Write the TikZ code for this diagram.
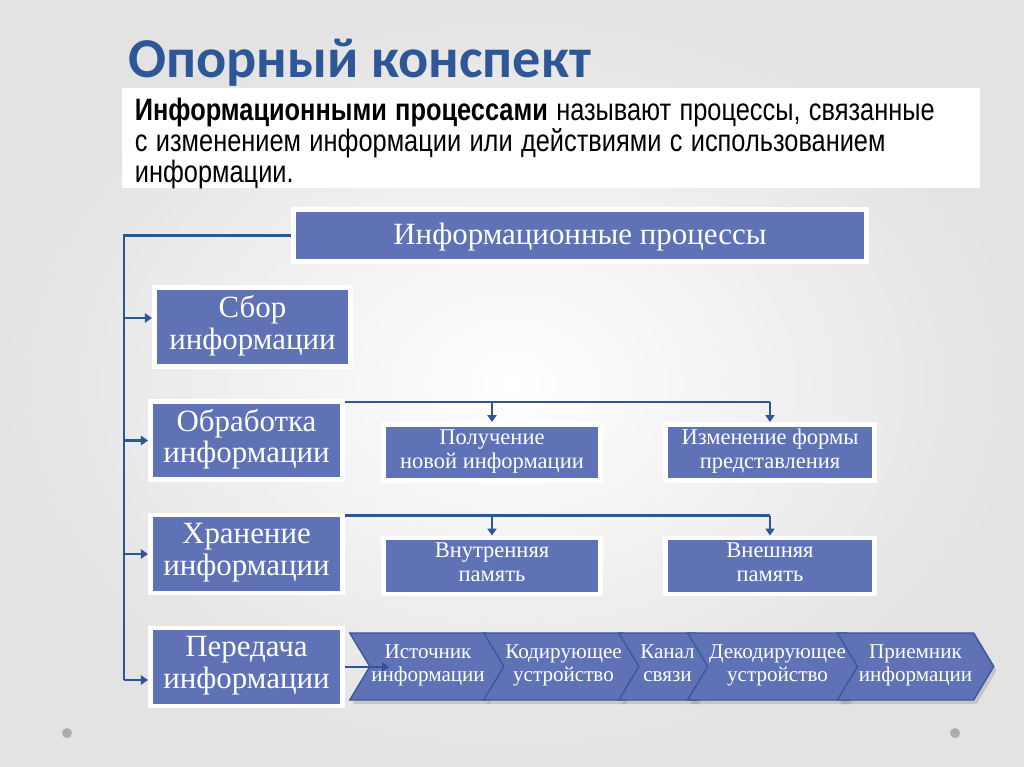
\documentclass[tikz,border=0pt]{standalone}
\usepackage{fontspec}
\setmainfont{Liberation Serif}
\newfontfamily\titlefont{Carlito}
\newfontfamily\narrowfont[FakeStretch=0.82]{Liberation Sans}
\newcommand\defnfont{\narrowfont\fontsize{22}{22}\selectfont\spaceskip 0.27em plus 0.05em\relax}
\usepackage{xcolor}
\definecolor{procBlue}{HTML}{5E72B5}
\definecolor{procEdge}{HTML}{3B579E}
\definecolor{lineBlue}{HTML}{2E5696}
\definecolor{titleBlue}{HTML}{2D5797}
\usetikzlibrary{positioning,shapes.symbols,shadows,arrows.meta}

\begin{document}
\begin{tikzpicture}[x=0.025cm, y=-0.025cm,
  conn/.style={draw=lineBlue, line width=2pt},
  arr/.style={conn, -{Triangle[length=5pt,width=6.5pt]}},
  procbox/.style={rectangle, fill=procBlue, draw=white, line width=3.5pt, text=white,
    align=center, inner sep=0pt, execute at end node=\strut,
    drop shadow={opacity=0.25, shadow xshift=1.5pt, shadow yshift=-1.5pt}},
  mainbox/.style={procbox, minimum width=4.8cm, minimum height=1.95cm,
    font=\fontsize{22}{22.5}\selectfont, execute at begin node=\rule{0pt}{27pt}},
  subbox/.style={procbox, minimum height=1.4cm, font=\fontsize{16}{17}\selectfont,
    execute at begin node=\rule{0pt}{19pt}},
  chev/.style={signal, signal from=west, signal to=east, signal pointer angle=118,
    fill=procBlue, draw=procEdge, line width=1pt, text=white, align=center,
    minimum height=1.675cm, inner sep=1pt, font=\fontsize{15}{16}\selectfont,
    execute at end node=\strut,
    drop shadow={opacity=0.3, shadow xshift=2pt, shadow yshift=-3pt}}]
  \useasboundingbox (0,0) rectangle (1024,767);
  \shade[inner color=white, outer color=gray!22] (0,0) rectangle (1024,767);
  \fill[gray!65] (67,733) circle (5);
  \fill[gray!65] (955,733) circle (5);

  \node[anchor=base west, inner sep=0pt, text=titleBlue,
    font=\titlefont\bfseries\fontsize{40}{44}\selectfont] (title) at (128,78) {Опорный конспект};
  \node[fill=white, minimum width=21.45cm, minimum height=2.5cm] (defn) at (551,138) {};
  \node[anchor=north west, inner sep=0pt, align=left, font=\defnfont]
    (defntext) at ([xshift=0.325cm,yshift=-0.25cm]defn.north west)
    {\textbf{Информационными процессами} называют процессы, связанные\\
     с изменением информации или действиями с использованием\\
     информации.};

  \node[procbox, minimum width=14.325cm, minimum height=1.3cm,
    font=\fontsize{22}{24}\selectfont, execute at begin node=\rule{0pt}{20pt}]
    (top) at (580,235.5) {Информационные процессы};
  \node[mainbox, minimum width=4.9cm, minimum height=1.975cm] (sbor) at (252.5,327) {Сбор\\информации};
  \node[mainbox] (obr) at (246.5,440.5) {Обработка\\информации};
  \node[mainbox] (hran) at (246.5,554) {Хранение\\информации};
  \node[mainbox] (pered) at (246.5,667) {Передача\\информации};

  \node[subbox, minimum width=5.425cm] (pol) at (492,452.5) {Получение\\новой информации};
  \node[subbox, minimum width=5.225cm] (izm) at (770,452.5) {Изменение формы\\представления};
  \node[subbox, minimum width=5.425cm] (vnut) at (492,566) {Внутренняя\\память};
  \node[subbox, minimum width=5.225cm] (vnesh) at (770,566) {Внешняя\\память};

  \node[chev, minimum width=3.75cm] (src) at (428,666.5) {Источник\\информации};
  \node[chev, minimum width=3.925cm] (enc) at (563.5,666.5) {Кодирующее\\устройство};
  \node[chev, minimum width=2.125cm] (chan) at (667.5,666.5) {Канал\\связи};
  \node[chev, minimum width=4.375cm] (dec) at (777.5,666.5) {Декодирующее\\устройство};
  \node[chev, minimum width=3.375cm] (recv) at (915.5,666.5) {Приемник\\информации};

  \coordinate (trunk) at (124,235.5);
  \coordinate (sbor-in) at ([yshift=0.225cm]sbor.west);
  \coordinate (pered-in) at ([yshift=-0.325cm]pered.west);
  \draw[conn] (top.west) -- (trunk) -- (trunk |- pered-in);
  \draw[arr] (trunk |- sbor-in) -- (sbor-in);
  \draw[arr] (trunk |- obr.west) -- (obr.west);
  \draw[arr] (trunk |- hran.west) -- (hran.west);
  \draw[arr] (trunk |- pered-in) -- (pered-in);

  \coordinate (obr-out) at ([yshift=-0.075cm]obr.north east);
  \draw[conn] (obr-out) -- (obr-out -| izm.north);
  \draw[arr] (obr-out -| pol.north) -- (pol.north);
  \draw[arr] (obr-out -| izm.north) -- (izm.north);
  \coordinate (hran-out) at ([yshift=-0.075cm]hran.north east);
  \draw[conn] (hran-out) -- (hran-out -| vnesh.north);
  \draw[arr] (hran-out -| vnut.north) -- (vnut.north);
  \draw[arr] (hran-out -| vnesh.north) -- (vnesh.north);

  \coordinate (src-in) at ([xshift=0.5cm]src.west);
  \draw[arr] (pered.east) -- (pered.east -| src-in);
\end{tikzpicture}
\end{document}
